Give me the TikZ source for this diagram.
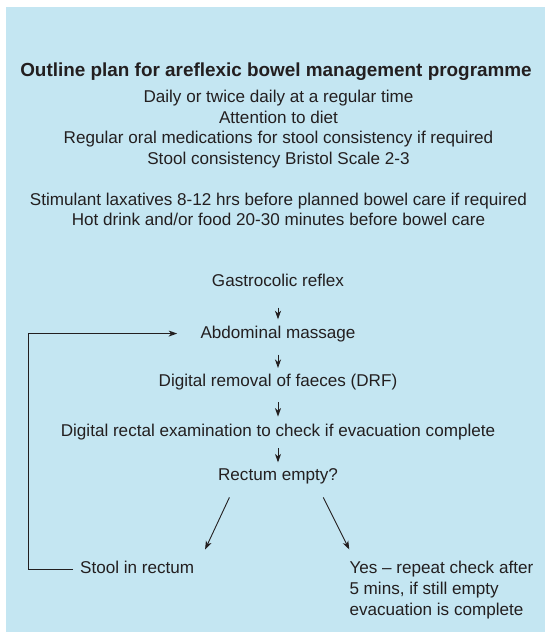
\documentclass[tikz,border=0pt]{standalone}
\usepackage{fontspec}
\setmainfont{Liberation Sans}
\usetikzlibrary{arrows.meta}
\definecolor{panel}{RGB}{196,230,242}
\definecolor{ink}{RGB}{35,31,32}
\begin{document}
\begin{tikzpicture}[x=1pt,y=-1pt,
  body/.style={font=\fontsize{17.1}{20.5}\selectfont, text=ink, inner sep=0pt, anchor=base},
  flow/.style={body, text height=12.5pt, text depth=3.6pt},
  heading/.style={font=\fontsize{18.9}{22}\selectfont\bfseries, text=ink, inner sep=0pt, anchor=base},
  arr/.style={draw=ink, line width=0.9pt, -{Stealth[length=8.5pt,width=6pt,inset=2.5pt]}},
  link/.style={draw=ink, line width=0.9pt}]
\useasboundingbox (0,0) rectangle (545,632);
% panel background
\fill[panel] (6.3,7) rectangle (545,632);

% heading
\node[heading] (title) at (276,76.5) {Outline plan for areflexic bowel management programme};

% general routine
\node[body] (r1) at (278.5,102.5) {Daily or twice daily at a regular time};
\node[body] (r2) at (278.5,123) {Attention to diet};
\node[body] (r3) at (278.5,143.5) {Regular oral medications for stool consistency if required};
\node[body] (r4) at (278.5,164) {Stool consistency Bristol Scale 2-3};
\node[body] (r5) at (278.5,205) {Stimulant laxatives 8-12 hrs before planned bowel care if required};
\node[body] (r6) at (278.5,225.5) {Hot drink and/or food 20-30 minutes before bowel care};

% bowel care sequence
\node[flow] (g) at (278,286.8) {Gastrocolic reflex};
\node[flow] (a) at (278,338) {Abdominal massage};
\node[flow] (d) at (278,386.6) {Digital removal of faeces (DRF)};
\node[flow] (e) at (278,436.7) {Digital rectal examination to check if evacuation complete};
\node[flow] (r) at (278,480.7) {Rectum empty?};
\node[flow, anchor=base west] (s) at (80,573.8) {Stool in rectum};
\node[body, anchor=base west] (y1) at (349.3,573.8) {Yes -- repeat check after};
\node[body, anchor=base west] (y2) at (349.3,594.8) {5 mins, if still empty};
\node[body, anchor=base west] (y3) at (349.3,615.8) {evacuation is complete};

\draw[arr, shorten <=17pt, shorten >=6pt] (g.south) -- (a.north);
\draw[arr, shorten <=12.7pt, shorten >=5.9pt] (a.south) -- (d.north);
\draw[arr, shorten <=12pt, shorten >=7.4pt] (d.south) -- (e.north);
\draw[arr, shorten <=7.8pt, shorten >=5.6pt] (e.south) -- (r.north);

% branches from the decision
\coordinate (bl0) at (229.4,497.4);
\coordinate (bl1) at (205.1,549.5);
\coordinate (br0) at (323.3,497.4);
\coordinate (br1) at (349.3,549.5);
\draw[arr] (bl0) -- (bl1);
\draw[arr] (br0) -- (br1);

% loop back to massage
\draw[arr] ([xshift=-7pt]s.west) -- ++(-44.2,0) |- ([xshift=-23.2pt]a.west);
\end{tikzpicture}
\end{document}
